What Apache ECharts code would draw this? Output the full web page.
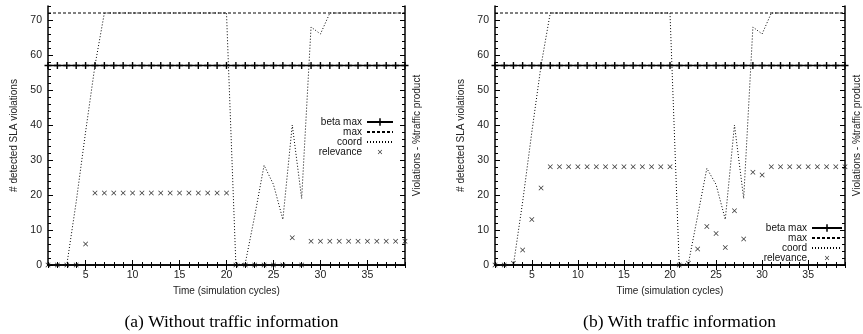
<!DOCTYPE html>
<html>
<head>
<meta charset="utf-8">
<script src="https://cdn.jsdelivr.net/npm/echarts@6/dist/echarts.min.js"></script>
<style>
  html, body { margin: 0; padding: 0; background: #fff; }
  #main { width: 863px; height: 334px; }
</style>
</head>
<body>
<div id="main"></div>
<script>
// 时间轴 (simulation cycles)
var cycles = [1, 2, 3, 4, 5, 6, 7, 8, 9, 10, 11, 12, 13, 14, 15, 16, 17, 18, 19, 20,
              21, 22, 23, 24, 25, 26, 27, 28, 29, 30, 31, 32, 33, 34, 35, 36, 37, 38, 39];

// 两条水平线
var betaMax = [57, 57, 57, 57, 57, 57, 57, 57, 57, 57, 57, 57, 57, 57, 57, 57, 57, 57, 57, 57,
               57, 57, 57, 57, 57, 57, 57, 57, 57, 57, 57, 57, 57, 57, 57, 57, 57, 57, 57];
var maxLine = [72, 72, 72, 72, 72, 72, 72, 72, 72, 72, 72, 72, 72, 72, 72, 72, 72, 72, 72, 72,
               72, 72, 72, 72, 72, 72, 72, 72, 72, 72, 72, 72, 72, 72, 72, 72, 72, 72, 72];

// (a) Without traffic information
var coordA = [0, 0, 0, 18, 38, 57, 72, 72, 72, 72, 72, 72, 72, 72, 72, 72, 72, 72, 72, 72,
              0, 0.5, 14, 28.5, 23, 13, 40, 19, 68, 66, 72, 72, 72, 72, 72, 72, 72, 72, 72];
var relevanceA = [0, 0, 0, 0, 6, 20.6, 20.6, 20.6, 20.6, 20.6, 20.6, 20.6, 20.6, 20.6, 20.6, 20.6, 20.6, 20.6, 20.6, 20.6,
                  0, 0, 0, 0, 0, 0, 7.8, 0, 6.8, 6.8, 6.8, 6.8, 6.8, 6.8, 6.8, 6.8, 6.8, 6.8, 6.8];

// (b) With traffic information
var coordB = [0, 0, 0, 18, 38, 57, 72, 72, 72, 72, 72, 72, 72, 72, 72, 72, 72, 72, 72, 72,
              0, 0.5, 14, 27.6, 23, 13, 40, 19, 68, 66, 72, 72, 72, 72, 72, 72, 72, 72, 72];
var relevanceB = [0, 0, 0.5, 4.3, 13, 22, 28.1, 28.1, 28.1, 28.1, 28.1, 28.1, 28.1, 28.1, 28.1, 28.1, 28.1, 28.1, 28.1, 28.1,
                  0, 0.5, 4.6, 11, 9, 5, 15.5, 7.4, 26.5, 25.7, 28.1, 28.1, 28.1, 28.1, 28.1, 28.1, 28.1, 28.1, 28.1];

// 刻度
var xMajorTicks = [5, 10, 15, 20, 25, 30, 35];
var yMajorTicks = [0, 10, 20, 30, 40, 50, 60, 70];
var yMinorTicks = [0, 2, 4, 6, 8, 10, 12, 14, 16, 18, 20, 22, 24, 26, 28, 30, 32, 34, 36, 38,
                   40, 42, 44, 46, 48, 50, 52, 54, 56, 58, 60, 62, 64, 66, 68, 70, 72, 74];

var captions = ['(a) Without traffic information', '(b) With traffic information'];

var FONT = 'Liberation Sans';
var plusIcon = 'path://M4,0H6V4H10V6H6V10H4V6H0V4H4Z';
var crossIcon = 'path://M0,1L1,0L5,4L9,0L10,1L6,5L10,9L9,10L5,6L1,10L0,9L4,5Z';
var blankIcon = 'path://M0,0L0,0M10,10L10,10'; // 不可见的点, 图例里只剩线
// 图例里用的小一点的x (外面加了空白的包围盒)
var crossLegendIcon = 'path://M-6,-6L-6,-6M16,16L16,16M0,1L1,0L5,4L9,0L10,1L6,5L10,9L9,10L5,6L1,10L0,9L4,5Z';

function pairs(ys) {
    return cycles.map(function (x, i) { return [x, ys[i]]; });
}

var chart = echarts.init(document.getElementById('main'));

// 两个子图的位置
var panels = [
    { left: 48, width: 357, coord: coordA, relevance: relevanceA, legendLeft: 307, legendTop: 112, iconW: 26 },
    { left: 495, width: 359, coord: coordB, relevance: relevanceB, legendLeft: 752, legendTop: 218, iconW: 30 }
];

var option = {
    animation: false,
    backgroundColor: '#fff',
    grid: [], xAxis: [], yAxis: [], series: [], legend: [], title: []
};

panels.forEach(function (p, g) {
    option.grid.push({ left: p.left, top: 6, width: p.width, height: 259 });

    var xBase = { type: 'value', gridIndex: g, min: 1, max: 39, splitLine: { show: false } };
    var xi = option.xAxis.length;
    // 下方主刻度
    option.xAxis.push(Object.assign({}, xBase, {
        position: 'bottom',
        axisLine: { show: true, lineStyle: { color: '#000', width: 1.5 } },
        axisTick: { inside: true, length: 5, customValues: xMajorTicks, lineStyle: { color: '#000' } },
        axisLabel: { customValues: xMajorTicks, color: '#222', fontFamily: FONT, fontSize: 10.5, margin: 5 },
        name: 'Time (simulation cycles)', nameLocation: 'middle', nameGap: 18,
        nameTextStyle: { color: '#222', fontFamily: FONT, fontSize: 10 }
    }));
    // 下方次刻度
    option.xAxis.push(Object.assign({}, xBase, {
        position: 'bottom', axisLine: { show: false },
        axisTick: { inside: true, length: 3, customValues: cycles, lineStyle: { color: '#000' } },
        axisLabel: { show: false }
    }));
    // 上方
    option.xAxis.push(Object.assign({}, xBase, {
        position: 'top',
        axisLine: { show: true, lineStyle: { color: '#000', width: 1.5 } },
        axisTick: { inside: true, length: 5, customValues: xMajorTicks, lineStyle: { color: '#000' } },
        axisLabel: { show: false }
    }));
    option.xAxis.push(Object.assign({}, xBase, {
        position: 'top', axisLine: { show: false },
        axisTick: { inside: true, length: 3, customValues: cycles, lineStyle: { color: '#000' } },
        axisLabel: { show: false }
    }));

    var yBase = { type: 'value', gridIndex: g, min: 0, max: 74, splitLine: { show: false } };
    var yi = option.yAxis.length;
    option.yAxis.push(Object.assign({}, yBase, {
        position: 'left',
        axisLine: { show: true, lineStyle: { color: '#000', width: 1.5 } },
        axisTick: { inside: true, length: 5, customValues: yMajorTicks, lineStyle: { color: '#000' } },
        axisLabel: { customValues: yMajorTicks, color: '#222', fontFamily: FONT, fontSize: 10.5, margin: 6 },
        name: '# detected SLA violations', nameLocation: 'middle', nameGap: 29, nameRotate: 90,
        nameTextStyle: { color: '#222', fontFamily: FONT, fontSize: 10 }
    }));
    option.yAxis.push(Object.assign({}, yBase, {
        position: 'left', axisLine: { show: false },
        axisTick: { inside: true, length: 3, customValues: yMinorTicks, lineStyle: { color: '#000' } },
        axisLabel: { show: false }
    }));
    option.yAxis.push(Object.assign({}, yBase, {
        position: 'right',
        axisLine: { show: true, lineStyle: { color: '#000', width: 1.5 } },
        axisTick: { inside: true, length: 5, customValues: yMajorTicks, lineStyle: { color: '#000' } },
        axisLabel: { show: false },
        name: 'Violations - %traffic product', nameLocation: 'middle', nameGap: 7, nameRotate: 90,
        nameTextStyle: { color: '#222', fontFamily: FONT, fontSize: 10 }
    }));
    option.yAxis.push(Object.assign({}, yBase, {
        position: 'right', axisLine: { show: false },
        axisTick: { inside: true, length: 3, customValues: yMinorTicks, lineStyle: { color: '#000' } },
        axisLabel: { show: false }
    }));

    // 数据系列
    option.series.push({
        name: 'beta max', type: 'line', xAxisIndex: xi, yAxisIndex: yi,
        data: pairs(betaMax), symbol: plusIcon, symbolSize: 7, showAllSymbol: true,
        lineStyle: { color: '#000', width: 1.5 }, itemStyle: { color: '#000' }
    });
    option.series.push({
        name: 'max', type: 'line', xAxisIndex: xi, yAxisIndex: yi,
        data: pairs(maxLine), symbol: blankIcon, showSymbol: false,
        lineStyle: { color: '#000', width: 1, type: [3, 2] }, itemStyle: { color: '#000' }
    });
    option.series.push({
        name: 'coord', type: 'line', xAxisIndex: xi, yAxisIndex: yi,
        data: pairs(p.coord), symbol: blankIcon, showSymbol: false,
        lineStyle: { color: '#000', width: 1, type: [1, 2] }, itemStyle: { color: '#000' }
    });
    option.series.push({
        name: 'relevance', type: 'scatter', xAxisIndex: xi, yAxisIndex: yi,
        data: pairs(p.relevance), symbol: crossIcon, symbolSize: 5, clip: false,
        itemStyle: { color: '#000' }
    });

    // 图例
    option.legend.push({
        orient: 'vertical', left: p.legendLeft, top: p.legendTop,
        align: 'right', itemGap: 0, itemWidth: p.iconW, itemHeight: 9.5,
        data: [
            { name: 'beta max' },
            { name: 'max' },
            { name: 'coord' },
            { name: 'relevance', icon: crossLegendIcon }
        ],
        formatter: function (name) { return '{n|' + name + '}'; },
        textStyle: {
            color: '#111', fontFamily: FONT, fontSize: 10,
            rich: { n: { width: 50, align: 'right', fontFamily: FONT, fontSize: 10, color: '#111', lineHeight: 9.5 } }
        },
        selectedMode: false
    });

    // 标题
    option.title.push({
        text: captions[g], left: p.left + p.width / 2, top: 308, textAlign: 'center',
        textStyle: { fontFamily: 'Liberation Serif', fontSize: 17.5, fontWeight: 'normal', color: '#000' }
    });
});

chart.setOption(option);
</script>
</body>
</html>
